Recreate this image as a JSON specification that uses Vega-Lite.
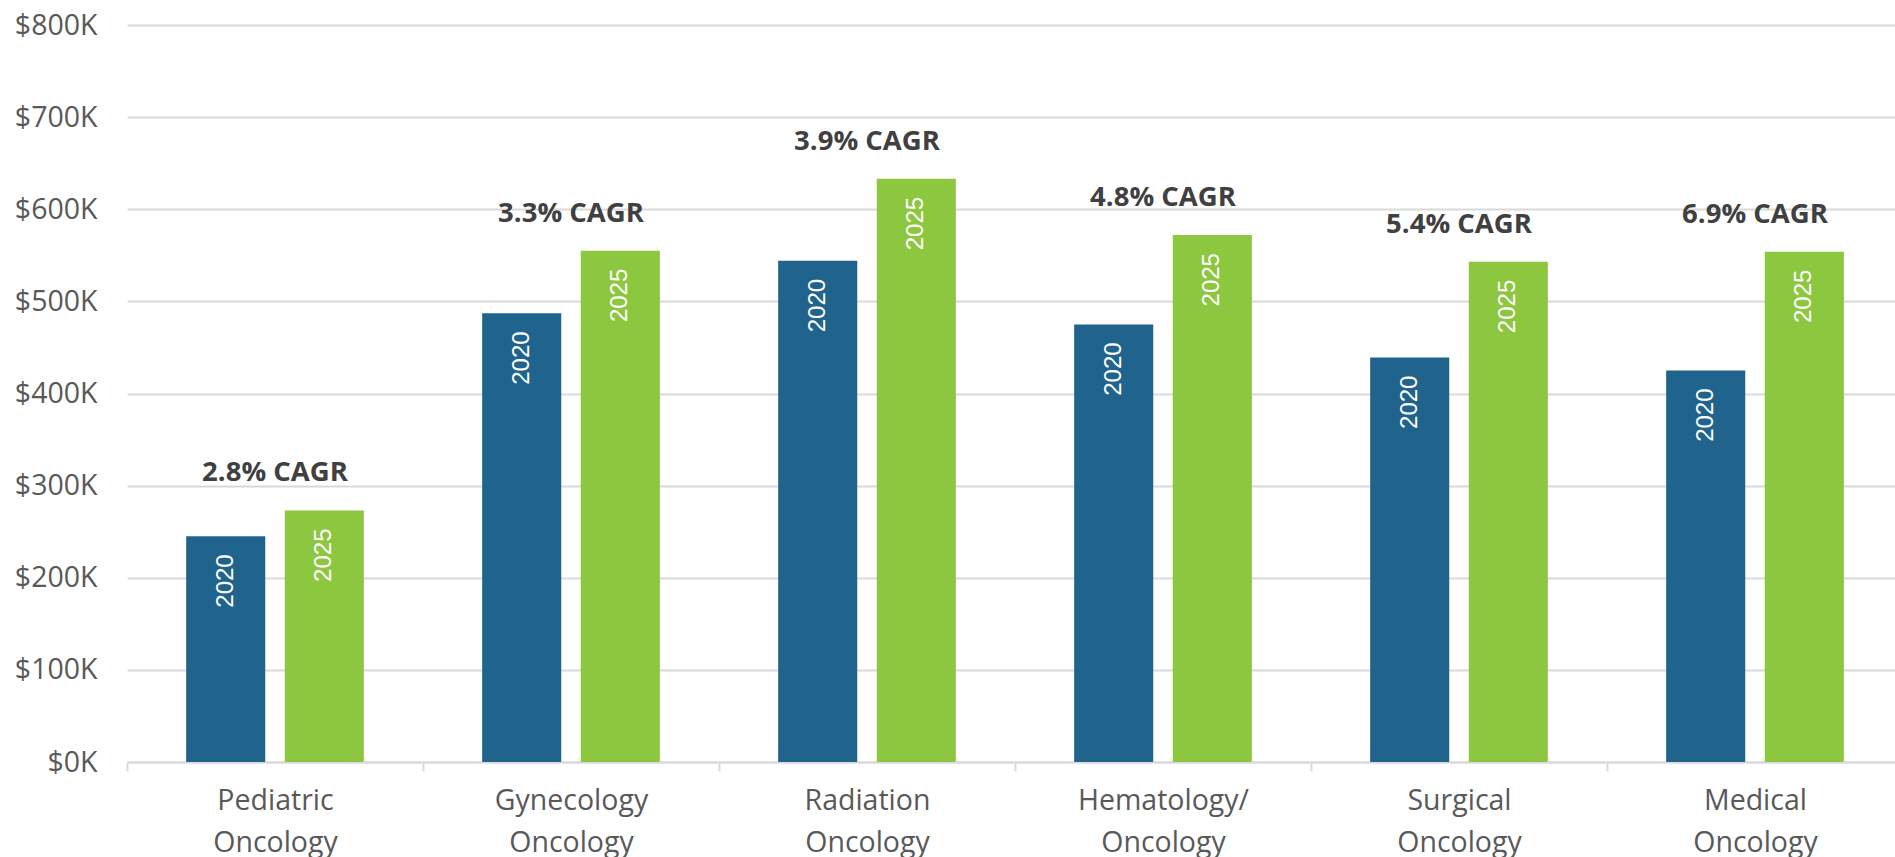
{
  "$schema": "https://vega.github.io/schema/vega-lite/v6.json",
  "width": 1776,
  "height": 737,
  "autosize": {"type": "none"},
  "padding": {"left": 127, "top": 25, "right": -8, "bottom": 95},
  "background": "white",
  "config": {"view": {"stroke": null}, "font": "Open Sans"},
  "data": {
    "values": [
      {"specialty": "Pediatric Oncology", "year": "2020", "value": 245000, "cagr": "2.8% CAGR"},
      {"specialty": "Pediatric Oncology", "year": "2025", "value": 273000, "cagr": "2.8% CAGR"},
      {"specialty": "Gynecology Oncology", "year": "2020", "value": 487000, "cagr": "3.3% CAGR"},
      {"specialty": "Gynecology Oncology", "year": "2025", "value": 555000, "cagr": "3.3% CAGR"},
      {"specialty": "Radiation Oncology", "year": "2020", "value": 544000, "cagr": "3.9% CAGR"},
      {"specialty": "Radiation Oncology", "year": "2025", "value": 633000, "cagr": "3.9% CAGR"},
      {"specialty": "Hematology/Oncology", "year": "2020", "value": 475000, "cagr": "4.8% CAGR"},
      {"specialty": "Hematology/Oncology", "year": "2025", "value": 572000, "cagr": "4.8% CAGR"},
      {"specialty": "Surgical Oncology", "year": "2020", "value": 439000, "cagr": "5.4% CAGR"},
      {"specialty": "Surgical Oncology", "year": "2025", "value": 543000, "cagr": "5.4% CAGR"},
      {"specialty": "Medical Oncology", "year": "2020", "value": 425000, "cagr": "6.9% CAGR"},
      {"specialty": "Medical Oncology", "year": "2025", "value": 554000, "cagr": "6.9% CAGR"}
    ]
  },
  "encoding": {
    "x": {
      "field": "specialty",
      "type": "nominal",
      "sort": null,
      "scale": {"paddingInner": 0, "paddingOuter": 0},
      "axis": {
        "title": null,
        "labelAngle": 0,
        "labelFontSize": 28.5,
        "labelColor": "#595959",
        "labelLineHeight": 42,
        "labelPadding": 15,
        "labelBaseline": "top",
        "labelExpr": "split(replace(datum.label, '/', '/ '), ' ')",
        "tickSize": 9,
        "tickColor": "#D9D9D9",
        "tickWidth": 2,
        "tickBand": "extent",
        "domainColor": "#D9D9D9",
        "domainWidth": 2,
        "grid": false
      }
    },
    "y": {
      "field": "value",
      "type": "quantitative",
      "scale": {"domain": [0, 800000], "nice": false},
      "axis": {
        "title": null,
        "values": [0, 100000, 200000, 300000, 400000, 500000, 600000, 700000, 800000],
        "labelExpr": "'$' + (datum.value / 1000) + 'K'",
        "labelFontSize": 28.5,
        "labelColor": "#595959",
        "labelPadding": 30,
        "ticks": false,
        "domain": false,
        "grid": true,
        "gridColor": "#D9D9D9",
        "gridWidth": 2
      }
    }
  },
  "layer": [
    {
      "mark": {"type": "bar"},
      "encoding": {
        "xOffset": {"field": "year", "type": "nominal", "scale": {"paddingInner": 0.198, "paddingOuter": 0.6}},
        "color": {
          "field": "year",
          "type": "nominal",
          "scale": {"domain": ["2020", "2025"], "range": ["#20648D", "#8DC63F"]},
          "legend": null
        }
      }
    },
    {
      "mark": {
        "type": "text",
        "angle": 270,
        "align": "right",
        "baseline": "middle",
        "dx": -18,
        "font": "Liberation Sans",
        "fontSize": 24,
        "color": "white"
      },
      "encoding": {
        "xOffset": {"field": "year", "type": "nominal", "scale": {"paddingInner": 0.198, "paddingOuter": 0.6}},
        "text": {"field": "year"}
      }
    },
    {
      "transform": [{"filter": "datum.year == '2025'"}],
      "mark": {
        "type": "text",
        "align": "center",
        "baseline": "middle",
        "dy": -37,
        "fontSize": 27.5,
        "fontWeight": "bold",
        "color": "#404040"
      },
      "encoding": {
        "text": {"field": "cagr"}
      }
    }
  ]
}
